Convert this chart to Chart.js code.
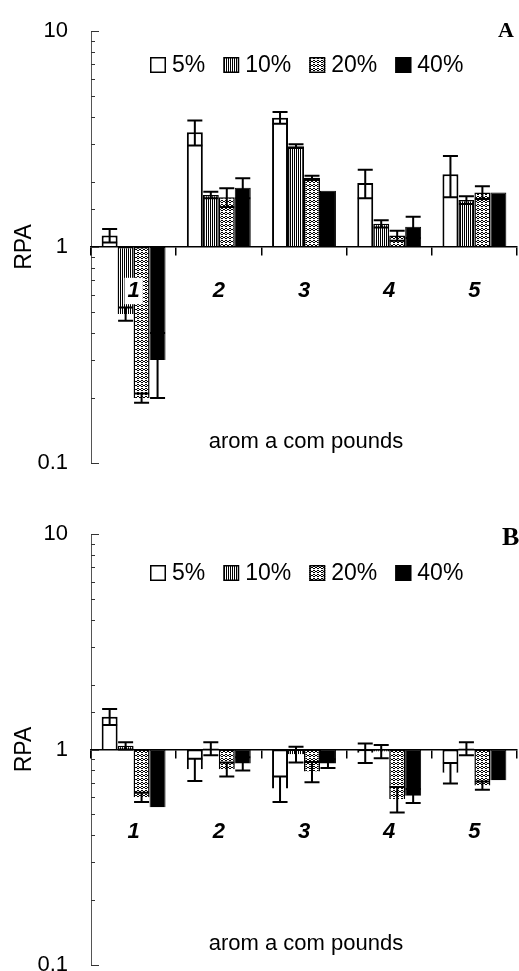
<!DOCTYPE html>
<html><head><meta charset="utf-8">
<script src="https://cdn.jsdelivr.net/npm/chart.js@4.4.1/dist/chart.umd.min.js"></script>
<style>
html,body{margin:0;padding:0;background:#fff;width:519px;height:971px;overflow:hidden}
canvas{position:absolute;left:0;display:block}
</style></head>
<body>
<canvas id="cA" width="519" height="490" style="top:0px"></canvas>
<canvas id="cB" width="519" height="481" style="top:490px"></canvas>
<script>
// ---------- data ----------
const categories = ['1', '2', '3', '4', '5'];
const seriesNames = ['5%', '10%', '20%', '40%'];
const yTickValues = [0.1, 1, 10];
const yTickLabels = ['0.1', '1', '10'];
const yTitle = 'RPA';
const xTitle = 'arom a com pounds';

// Panel A
const a5   = [1.13, 3.40, 3.97, 1.98, 2.17];
const a5e  = [0.08, 0.45, 0.25, 0.30, 0.47];
const a10  = [0.49, 1.74, 2.93, 1.28, 1.65];
const a10e = [0.035, 0.06, 0.06, 0.05, 0.07];
const a20  = [0.20, 1.70, 2.09, 1.13, 1.79];
const a20e = [0.01, 0.17, 0.05, 0.06, 0.12];
const a40  = [0.30, 1.88, 1.82, 1.24, 1.79];
const a40e = [0.10, 0.20, 0, 0.14, 0];

// Panel B
const b5   = [1.42, 0.81, 0.66, 0.965, 0.78];
const b5e  = [0.12, 0.095, 0.09, 0.10, 0.085];
const b10  = [1.04, 1.01, 0.95, 0.98, 1.01];
const b10e = [0.04, 0.07, 0.08, 0.07, 0.07];
const b20  = [0.60, 0.81, 0.79, 0.59, 0.68];
const b20e = [0.03, 0.06, 0.085, 0.08, 0.03];
const b40  = [0.54, 0.86, 0.86, 0.61, 0.72];
const b40e = [0, 0.06, 0.04, 0.045, 0];

// ---------- rendering ----------
const SANS = "'Liberation Sans', Arial, sans-serif";
const SERIF = "'Liberation Serif', 'Times New Roman', serif";

function makePattern(ctx, w, h, pts) {
  const c = document.createElement('canvas');
  c.width = w; c.height = h;
  const g = c.getContext('2d');
  g.fillStyle = '#fff'; g.fillRect(0, 0, w, h);
  g.fillStyle = '#000';
  pts.forEach(p => g.fillRect(p[0], p[1], 1, 1));
  return ctx.createPattern(c, 'repeat');
}

function isMajor(v) {
  const l = Math.log10(v);
  return Math.abs(l - Math.round(l)) < 1e-6;
}

const decor = {
  id: 'decor',
  afterDatasetsDraw(chart) {
    const ctx = chart.ctx, ys = chart.scales.y;
    ctx.save();
    ctx.strokeStyle = '#000';
    ctx.lineWidth = 2;
    chart.data.datasets.forEach((ds, i) => {
      const meta = chart.getDatasetMeta(i);
      meta.data.forEach((el, j) => {
        const e = ds.errors[j];
        if (!e) return;
        const v = ds.values[j];
        const y1 = ys.getPixelForValue(v + e);
        const y2 = ys.getPixelForValue(v - e);
        const hw = el.width * 0.47;
        ctx.beginPath();
        ctx.moveTo(el.x, y1); ctx.lineTo(el.x, y2);
        ctx.moveTo(el.x - hw, y1); ctx.lineTo(el.x + hw, y1);
        ctx.moveTo(el.x - hw, y2); ctx.lineTo(el.x + hw, y2);
        ctx.stroke();
      });
    });
    ctx.restore();
  },
  afterDraw(chart, args, o) {
    const ctx = chart.ctx, ys = chart.scales.y, ca = chart.chartArea;
    ctx.save();
    // inward tick marks on the y axis
    ctx.strokeStyle = '#333';
    ctx.lineWidth = 1;
    ys.ticks.forEach(t => {
      const y = Math.round(ys.getPixelForValue(t.value)) + 0.5;
      const len = isMajor(t.value) ? 8 : 4;
      ctx.beginPath();
      ctx.moveTo(ca.left, y); ctx.lineTo(ca.left + len, y);
      ctx.stroke();
    });
    // legend inside the plot
    let x = o.legendX;
    const yc = ca.top + o.legendDy;
    ctx.font = '23px ' + SANS;
    ctx.textBaseline = 'middle';
    ctx.textAlign = 'left';
    chart.data.datasets.forEach(ds => {
      ctx.fillStyle = ds.backgroundColor;
      ctx.fillRect(x, yc - 8, 16, 16);
      ctx.strokeStyle = '#000';
      ctx.lineWidth = 1.5;
      ctx.strokeRect(x + 0.75, yc - 8 + 0.75, 14.5, 14.5);
      ctx.fillStyle = '#000';
      ctx.fillText(ds.label, x + 22, yc + 1);
      x += 22 + ctx.measureText(ds.label).width + 18;
    });
    // panel letter
    ctx.font = 'bold ' + o.letterSize + 'px ' + SERIF;
    ctx.textBaseline = 'alphabetic';
    ctx.fillText(o.letter, o.letterX, ca.top + o.letterDy);
    // x axis title
    ctx.font = '22px ' + SANS;
    ctx.textAlign = 'center';
    ctx.textBaseline = 'middle';
    ctx.fillText(xTitle, 306, ca.bottom - 21);
    ctx.restore();
  }
};

function makeChart(id, vals, errs, cfg) {
  const canvas = document.getElementById(id);
  const ctx = canvas.getContext('2d');
  const stripes = makePattern(ctx, 2, 1, [[0, 0]]);
  const dots = makePattern(ctx, 4, 4, [[1, 0], [2, 0], [0, 1], [3, 1], [1, 2], [2, 2]]);
  const fills = ['#ffffff', stripes, dots, '#000000'];
  const widths = [2, 1.5, 1.5, 1];
  const datasets = seriesNames.map((name, k) => ({
    label: name,
    data: vals[k].map(v => [1, v]),
    values: vals[k],
    errors: errs[k],
    backgroundColor: fills[k],
    borderColor: '#000',
    borderWidth: widths[k],
    borderSkipped: 'start',
    categoryPercentage: 0.75,
    barPercentage: 1.0
  }));
  return new Chart(canvas, {
    type: 'bar',
    data: { labels: categories, datasets },
    options: {
      responsive: false,
      animation: false,
      devicePixelRatio: 1,
      layout: { padding: { left: 0, right: 2, top: cfg.top, bottom: cfg.bottom } },
      plugins: {
        legend: { display: false },
        tooltip: { enabled: false },
        decor: cfg.decor
      },
      scales: {
        x: {
          position: { y: 1 },
          offset: true,
          grid: { display: true, drawOnChartArea: false, offset: true, tickLength: 8,
                  color: '#000', tickColor: '#000', lineWidth: 1.5, z: 1 },
          border: { display: true, color: '#000', width: 1.5, z: 1 },
          ticks: {
            z: 2,
            color: '#000',
            font: { family: SANS, size: 22, weight: 'bold', style: 'italic' },
            padding: cfg.labelPad,
            maxRotation: 0,
            showLabelBackdrop: true,
            backdropColor: '#ffffff',
            backdropPadding: { x: 3, y: 0 }
          },
          afterFit(s) { s.height = 0; s.paddingLeft = 0; s.paddingRight = 0; }
        },
        y: {
          type: 'logarithmic',
          position: 'left',
          min: 0.1,
          max: 10,
          grid: { display: false, drawTicks: false },
          border: { display: true, color: '#555', width: 1 },
          ticks: {
            autoSkip: false,
            padding: 23,
            color: '#000',
            font: { family: SANS, size: 22 },
            callback(v) {
              const i = yTickValues.findIndex(t => Math.abs(Math.log10(t) - Math.log10(v)) < 1e-6);
              return i >= 0 ? yTickLabels[i] : '';
            }
          },
          title: {
            display: true, text: yTitle, color: '#000',
            font: { family: SANS, size: 23 },
            padding: { top: 11, bottom: 0 }
          },
          afterFit(s) { s.width = 91; s.paddingTop = 0; s.paddingBottom = 0; }
        }
      }
    },
    plugins: [decor]
  });
}

makeChart('cA', [a5, a10, a20, a40], [a5e, a10e, a20e, a40e], {
  top: 31, bottom: 27, labelPad: 22.8,
  decor: { legendX: 150, legendDy: 34, letter: 'A', letterX: 498, letterDy: 6, letterSize: 22 }
});
makeChart('cB', [b5, b10, b20, b40], [b5e, b10e, b20e, b40e], {
  top: 44, bottom: 6, labelPad: 61.3,
  decor: { legendX: 150, legendDy: 39, letter: 'B', letterX: 502, letterDy: 11, letterSize: 26 }
});
</script>
</body></html>
